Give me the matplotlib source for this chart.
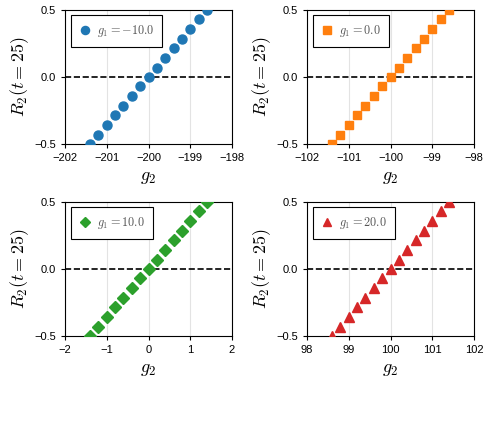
import numpy as np
import matplotlib
matplotlib.use("Agg")
import matplotlib.pyplot as plt

plt.rcParams['mathtext.fontset'] = 'cm'
plt.rcParams['font.family'] = ['Liberation Sans', 'DejaVu Sans']

g1_values = [-10.0, 0.0, 10.0, 20.0]
centers = [-200, -100, 0, 100]
offsets = [-1.4, -1.2, -1.0, -0.8, -0.6, -0.4, -0.2, 0.0, 0.2, 0.4, 0.6, 0.8, 1.0, 1.2, 1.4]
r2_values = [-0.50, -0.43, -0.36, -0.285, -0.215, -0.145, -0.07, 0.0,
             0.07, 0.145, 0.215, 0.285, 0.36, 0.43, 0.50]
markers = ['o', 's', 'D', '^']
colors = ['#1f77b4', '#ff7f0e', '#2ca02c', '#d62728']

fig = plt.figure(figsize=(4.9, 4.4), dpi=100)
W, H = 490, 440
boxes = [(65, 10, 232, 144), (307, 10, 474, 144), (65, 202, 232, 336), (307, 202, 474, 336)]
msizes = [6.5, 6.0, 6.0, 6.5]

for i in range(4):
    l, t, r, b = boxes[i]
    ax = fig.add_axes([l / W, 1 - b / H, (r - l) / W, (b - t) / H])
    x = np.array(offsets) + centers[i]
    ax.plot(x, r2_values, linestyle='none', marker=markers[i], color=colors[i],
            ms=msizes[i], label=r'$g_1 = %.1f$' % g1_values[i], zorder=3, clip_on=True)
    ax.axhline(0, color='black', linestyle='--', lw=1.2, zorder=2)
    ax.set_xlim(centers[i] - 2, centers[i] + 2)
    ax.set_ylim(-0.5, 0.5)
    ax.set_xticks(np.arange(centers[i] - 2, centers[i] + 3, 1))
    ax.set_yticks([-0.5, 0.0, 0.5])
    ax.set_yticklabels(['\u22120.5', '0.0', '0.5'])
    ax.grid(axis='x', color='#e3e3e3', lw=0.8, zorder=0)
    ax.tick_params(labelsize=8, length=3, width=0.8)
    ax.set_xlabel(r'$g_2$', fontsize=13, labelpad=4)
    ax.set_ylabel(r'$R_2(t=25)$', fontsize=13, labelpad=2)
    leg = ax.legend(loc='upper left', fancybox=False, edgecolor='black', framealpha=1,
                    fontsize=8.8, handletextpad=0.4, borderpad=0.65, handlelength=1.1,
                    markerscale=0.9, borderaxespad=0.45)
    leg.get_frame().set_linewidth(0.8)
    for txt in leg.get_texts():
        txt.set_color('#555555')

fig.savefig('out.png', dpi=100)
